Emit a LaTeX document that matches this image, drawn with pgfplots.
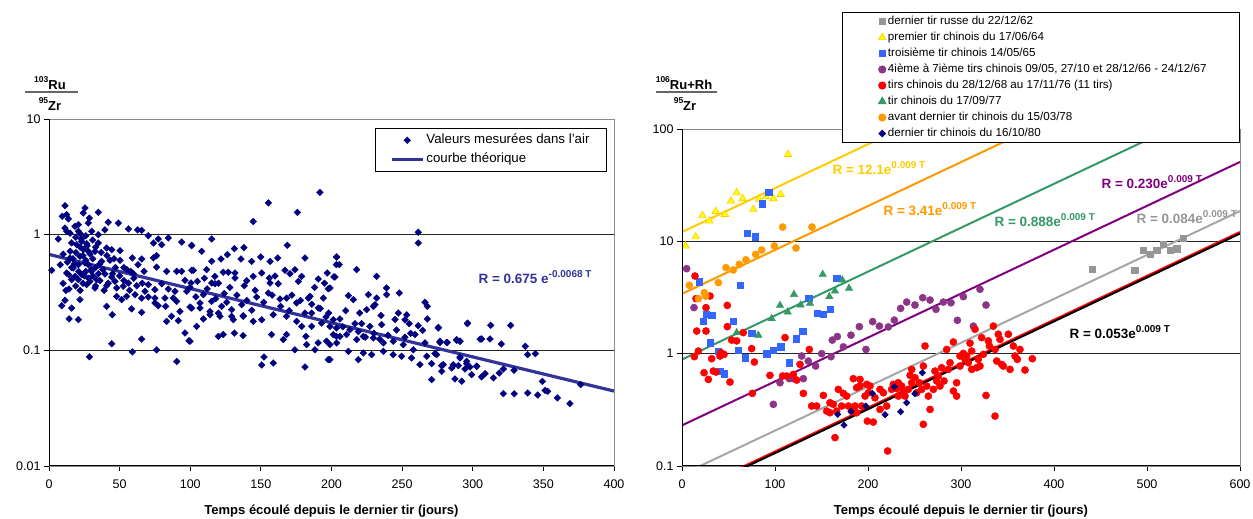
\documentclass[border=0pt]{standalone}
\usepackage{pgfplots}
\pgfplotsset{compat=1.18}
\usepackage{fontspec}
\setmainfont{Liberation Sans}

\definecolor{navy}{HTML}{000080}
\definecolor{fitblue}{HTML}{333399}
\definecolor{grayS}{HTML}{969696}
\definecolor{yelFill}{HTML}{FFFF00}
\definecolor{yelLine}{HTML}{FFCC00}
\definecolor{blueS}{HTML}{3366FF}
\definecolor{plum}{HTML}{8C3586}
\definecolor{purpleL}{HTML}{800080}
\definecolor{greenS}{HTML}{339966}
\definecolor{orangeS}{HTML}{FF9900}

% small raised text for isotopes and exponents
\newcommand{\up}[1]{\raisebox{0.48em}{\fontsize{8.5}{9}\selectfont #1}}
\newcommand{\upR}[1]{\raisebox{0.5em}{\fontsize{10}{11}\selectfont #1}}

\pgfplotsset{
  every axis/.append style={
    scale only axis,
    axis line style={draw=black!45, line width=0.9pt},
    tick align=outside, major tick length=5pt,
    xtick pos=bottom, ytick pos=left,
    tick style={black, line width=0.9pt},
    ymajorgrids, grid style={black!85, line width=0.8pt},
    ticklabel style={font=\fontsize{12.5}{14}\selectfont},
    xticklabel style={yshift=-5pt},
    xlabel style={font=\bfseries\fontsize{13}{15}\selectfont,
      at={(axis description cs:0.5,0)}, anchor=center, yshift=-45pt},
    legend cell align=left,
  },
}

\begin{document}
\begin{tikzpicture}
\useasboundingbox (0pt,0pt) rectangle (1253pt,519pt);

% ---------------- left panel: 103Ru / 95Zr ----------------
\begin{axis}[ymode=log, yminorticks=false, name=L,
  at={(49pt,53pt)}, anchor=south west, width=565pt, height=347pt,
  xmin=0, xmax=400, ymin=0.01, ymax=10,
  xtick={0,50,100,150,200,250,300,350,400},
  xticklabels={0,50,100,150,200,250,300,350,400},
  ytick={0.01,0.1,1,10}, yticklabels={0.01,0.1,1,10},
  xlabel={Temps écoulé depuis le dernier tir (jours)},
  legend style={at={(axis description cs:0.9876,0.974)}, anchor=north east,
    draw=black, line width=0.9pt, fill=white,
    font=\fontsize{13.3}{15}\selectfont, inner xsep=15pt, inner ysep=2pt,
    nodes={text height=9.5pt, text depth=3pt, inner ysep=3.5pt}},
  legend image code/.code={\draw[mark repeat=2,mark phase=2,#1]
    plot coordinates {(0pt,0pt) (15.5pt,0pt) (31pt,0pt)};},
]
\addplot[only marks, mark=square*, mark size=2.4pt, color=navy,
  mark options={rotate=45, line width=0.3pt}] coordinates {
(11.3,1.78)(9.4,1.44)(12.5,1.49)(13.7,1.37)(25.5,1.70)(24.3,1.54)(34.9,1.56)(28.6,1.39)
(20.8,1.22)(18.4,1.18)(11.3,1.14)(12.5,1.07)(14.9,1.03)(27.8,1.26)(42.0,1.28)(49.1,1.26)
(56.2,1.12)(62.8,1.10)(65.6,1.09)(70.3,0.98)(77.4,0.917)(84.5,0.936)(93.9,0.864)(101.0,0.809)
(79.8,0.82)(73.9,0.847)(6.6,0.917)(20.8,1.07)(30.2,1.07)(34.9,1.0)(39.6,1.10)(23.1,0.876)
(26.7,0.836)(19.6,0.82)(34.9,0.847)(40.8,0.767)(44.4,0.742)(50.3,0.727)(59.0,0.629)(65.6,0.616)
(73.9,0.629)(76.2,0.658)(14.9,0.629)(21.9,0.65)(24.3,0.742)(27.8,0.718)(32.6,0.718)(37.3,0.588)
(43.2,0.60)(50.3,0.60)(25.5,0.569)(20.8,0.551)(17.2,0.515)(12.5,0.466)(1.9,0.492)(18.4,0.436)
(23.1,0.451)(30.2,0.482)(39.6,0.457)(44.4,0.431)(59.7,0.46)(67.3,0.482)(76.2,0.525)(83.3,0.482)
(90.4,0.482)(93.9,0.482)(101.0,0.492)(16.0,0.408)(20.8,0.408)(26.7,0.37)(29.0,0.395)(33.7,0.408)
(40.8,0.362)(46.7,0.395)(47.9,0.346)(52.6,0.358)(56.2,0.382)(62.1,0.362)(68.0,0.324)(70.3,0.37)
(75.0,0.335)(79.8,0.377)(84.5,0.339)(89.2,0.324)(96.3,0.403)(97.5,0.324)(100.5,0.382)(14.2,0.339)
(21.9,0.274)(32.6,0.346)(47.9,0.293)(51.4,0.274)(55.0,0.293)(60.9,0.303)(65.6,0.283)(70.3,0.289)
(75.0,0.283)(77.4,0.243)(82.1,0.283)(88.0,0.283)(90.4,0.265)(9.0,0.243)(11.3,0.271)(16.0,0.232)
(40.8,0.24)(58.5,0.228)(65.6,0.213)(75.0,0.257)(82.6,0.24)(92.7,0.217)(99.8,0.237)(44.8,0.203)
(83.3,0.178)(91.6,0.181)(14.2,0.187)(20.8,0.184)(86.8,0.197)(96.3,0.141)(99.1,0.121)(44.4,0.114)
(65.6,0.125)(76.2,0.101)(59.0,0.097)(28.6,0.088)(90.4,0.080)
(17,0.62)(19,0.70)(22,0.78)(24,0.66)(26,0.60)(28,0.55)(30,0.50)(18,0.56)(21,0.48)(25,0.44)
(27,0.80)(23,0.92)(31,0.62)(33,0.52)(35,0.46)(15,0.72)(13,0.58)(29,0.68)(36,0.56)(38,0.50)
(8,0.55)(10,0.38)(12,0.33)(14,0.45)(16,0.52)(19,0.36)(22,0.33)(24,0.38)(26,0.48)(28,0.42)
(31,0.44)(33,0.36)(36,0.40)(39,0.33)(42,0.38)(45,0.46)(47,0.52)(50,0.44)(53,0.40)(55,0.50)
(57,0.33)(60,0.42)(63,0.55)(66,0.38)(10,0.68)(16,0.85)(19,0.95)(22,1.02)(26,0.98)(31,0.90)
(33,0.78)(37,0.70)(41,0.66)(46,0.62)(53,0.52)(58,0.48)
(101.0,0.803)(108.1,0.718)(115.2,0.917)(115.2,0.588)(121.8,0.616)(126.3,0.672)(131.2,0.757)(138.0,0.772)
(135.9,0.616)(143.5,0.588)(149.9,0.641)(156.5,0.588)(161.9,0.629)(168.7,0.809)(181.2,0.629)(203.5,0.641)
(203.5,0.551)(102.2,0.492)(111.6,0.498)(123.4,0.473)(126.9,0.473)(131.7,0.466)(131.7,0.422)(117.5,0.436)
(115.2,0.382)(117.5,0.377)(105.0,0.395)(144.6,0.436)(150.6,0.466)(156.0,0.422)(156.5,0.382)(162.3,0.377)
(167.1,0.492)(170.6,0.46)(174.1,0.498)(176.5,0.395)(178.9,0.436)(190.6,0.414)(197.0,0.466)(201.7,0.431)
(197.7,0.341)(138.3,0.362)(99.8,0.351)(109.3,0.303)(115.2,0.265)(106.9,0.257)(101.0,0.232)(106.9,0.232)
(114.0,0.217)(122.2,0.24)(125.8,0.26)(129.3,0.225)(136.4,0.248)(137.5,0.197)(143.5,0.222)(147.0,0.289)
(155.3,0.313)(163.5,0.278)(168.2,0.283)(175.3,0.257)(183.6,0.283)(184.8,0.293)(194.2,0.283)(190.6,0.232)
(185.9,0.21)(196.1,0.194)(201.3,0.184)(203.5,0.156)(104.5,0.161)(109.3,0.187)(114.0,0.203)(119.9,0.21)
(121.1,0.197)(129.3,0.197)(130.5,0.184)(137.5,0.1995)(144.6,0.178)(150.6,0.184)(158.8,0.203)(168.2,0.197)
(175.3,0.178)(178.9,0.161)(181.2,0.21)(185.9,0.161)(193.0,0.172)(99.8,0.12)(119.9,0.132)(123.4,0.137)
(131.2,0.141)(137.5,0.134)(157.6,0.137)(165.9,0.124)(168.2,0.137)(174.1,0.101)(181.9,0.132)(182.4,0.112)
(188.3,0.101)(190.6,0.116)(196.5,0.12)(198.9,0.112)(203.5,0.132)(152.2,0.0876)(150.6,0.0748)(158.8,0.0778)
(181.2,0.0718)(197.7,0.0831)(144.6,1.30)(155.3,1.88)(175.8,1.56)(191.8,2.32)
(104,0.29)(112,0.34)(118,0.28)(124,0.31)(128,0.35)(133,0.30)(140,0.27)(146,0.33)(152,0.26)(158,0.30)
(164,0.24)(170,0.22)(110,0.42)(120,0.38)(140,0.40)(160,0.44)
(172,0.30)(178,0.27)(186,0.25)(192,0.23)(198,0.21)(188,0.35)(195,0.38)
(208,0.16)(213,0.15)(219,0.145)(224,0.13)(230,0.14)(234,0.125)(240,0.135)(246,0.15)(252,0.13)(256,0.14)
(210,0.22)(220,0.21)(235,0.2)(245,0.185)(255,0.17)
(261.4,1.048)(261.4,0.847)(203.7,0.641)(205.5,0.551)(202.5,0.431)(217.8,0.498)(198.9,0.346)(232.0,0.436)
(239.0,0.346)(239.0,0.303)(211.9,0.297)(215.5,0.274)(226.1,0.303)(232.0,0.283)(230.8,0.248)(229.6,0.24)
(224.9,0.225)(248.0,0.313)(247.3,0.21)(253.2,0.203)(252.0,0.184)(266.2,0.26)(267.8,0.24)(267.8,0.187)
(261.4,0.1635)(264.5,0.149)(259.1,0.137)(275.6,0.158)(296.2,0.170)(206.0,0.187)(216.6,0.170)(221.3,0.170)
(227.2,0.161)(235.5,0.167)(201.3,0.137)(206.0,0.132)(210.7,0.137)(217.8,0.124)(222.5,0.132)(229.6,0.128)
(236.7,0.116)(243.7,0.12)(250.8,0.112)(257.9,0.101)(266.2,0.116)(276.8,0.117)(282.0,0.117)(288.6,0.122)
(291.0,0.12)(305.2,0.125)(198.9,0.161)(203.7,0.116)(211.9,0.098)(219.0,0.0831)(222.5,0.095)(228.4,0.0918)
(236.7,0.098)(243.7,0.0918)(249.6,0.0888)(256.7,0.0859)(262.6,0.0752)(267.4,0.0888)(270.9,0.0767)(274.4,0.0918)
(279.2,0.0752)(286.2,0.0752)(291.0,0.0859)(295.7,0.0767)(302.8,0.0728)(198.9,0.0831)
(296.4,0.172)(306.3,0.1254)(312.2,0.1254)(312.7,0.1646)(320.2,0.1135)(326.8,0.1646)(337.2,0.1083)(338.9,0.0918)
(344.3,0.0937)(291.0,0.0877)(295.7,0.0804)(298.1,0.0718)(302.8,0.0728)(299.2,0.0617)(306.3,0.0589)(308.7,0.0629)
(314.6,0.0577)(318.8,0.0637)(321.7,0.069)(329.2,0.0672)(321.7,0.0422)(329.4,0.0422)(338.9,0.0428)(346.0,0.0411)
(349.3,0.054)(351.2,0.0451)(353.0,0.0442)(359.9,0.0388)(368.8,0.0346)(376.4,0.0505)(287.4,0.0566)(292.2,0.054)
(289.8,0.0738)(294.5,0.069)(288.6,0.1238)(291.0,0.1197)(281.5,0.1173)(276.8,0.1197)(275.6,0.156)(273.3,0.0937)
(278.0,0.0738)(278.0,0.0659)(270.9,0.0558)(286.3,0.0738)(285.1,0.0704)
};
\addlegendentry{Valeurs mesurées dans l'air}
% fitted decay R = 0.675 exp(-0.0068 T)
\addplot[fitblue, line width=3.2pt] coordinates {(0,0.675) (400,0.04446)};
\addlegendentry{courbe théorique}
\end{axis}
\draw[black, line width=1pt] (L.north west) -- (L.south west) -- (L.south east);

\node[anchor=west, text=fitblue, font=\bfseries\fontsize{13.5}{15}\selectfont]
  at (475pt,242pt) {R = 0.675 e\upR{-0.0068 T}};

% isotope ratio label, left
\node[font=\bfseries\fontsize{13}{15}\selectfont] at (50pt,436pt) {\up{103}Ru};
\draw[black!60, line width=1.5pt] (25pt,427pt) -- (78pt,427pt);
\node[font=\bfseries\fontsize{13}{15}\selectfont] at (50pt,415pt) {\up{95}Zr};

% ---------------- right panel: 106Ru+Rh / 95Zr ----------------
\begin{axis}[ymode=log, yminorticks=false, name=R,
  at={(682pt,53pt)}, anchor=south west, width=558pt, height=337pt,
  xmin=0, xmax=600, ymin=0.1, ymax=100,
  xtick={0,100,200,300,400,500,600},
  xticklabels={0,100,200,300,400,500,600},
  ytick={0.1,1,10,100}, yticklabels={0.1,1,10,100},
  xlabel={Temps écoulé depuis le dernier tir (jours)},
  legend style={at={(axis description cs:1,1.347)}, anchor=north east,
    draw=black, line width=0.9pt, fill=white,
    font=\fontsize{11.6}{13}\selectfont, inner xsep=31pt, inner ysep=1pt,
    nodes={text height=8.3pt, text depth=2.5pt, inner ysep=2.6pt}},
  legend image code/.code={\path[draw=none, fill=none] (0pt,0pt) -- (9pt,0pt);
    \draw[#1] plot coordinates {(9pt,0pt)};},
]
\addplot[only marks, mark=square*, mark size=3.2pt, color=grayS] coordinates {
(441.2,5.63)(486.8,5.55)(495.7,8.37)(503.2,7.66)(510.4,8.37)(517.5,9.40)(524.7,8.37)(531.9,8.61)(539.0,10.7)
};
\addlegendentry{dernier tir russe du 22/12/62}
\addplot[only marks, mark=triangle*, mark size=4.3pt, draw=yelLine, fill=yelFill,
  mark options={draw=yelLine, fill=yelFill, line width=0.6pt}] coordinates {
(3.9,9.09)(14.7,11.0)(21.9,17.0)(29.4,15.2)(36.2,18.5)(46.2,17.4)(52.7,22.9)(58.8,27.1)
(65.2,24.0)(76.7,19.3)(82.8,23.7)(90.3,25.0)(98.2,24.0)(106.1,26.2)(114.0,59.5)
};
\addlegendentry{premier tir chinois du 17/06/64}
\addplot[only marks, mark=square*, mark size=3.2pt, color=blueS] coordinates {
(69.9,11.8)(78.9,11.0)(86.4,21.7)(93.2,27.5)(18.6,4.37)(22.9,1.95)(25.8,2.24)(31.9,2.19)
(30.1,1.25)(39.1,1.055)(40.9,0.70)(45.5,0.663)(55.2,1.95)(60.6,1.077)(62.4,4.06)(67.7,0.921)
(74.9,1.52)(91.0,1.0)(98.2,1.077)(106.1,1.15)(115.1,0.831)(122.6,1.36)(129.7,1.59)(136.2,3.11)
(145.5,2.28)(152.0,2.24)(159.1,2.48)(166.3,4.68)
};
\addlegendentry{troisième tir chinois 14/05/65}
\addplot[only marks, mark=*, mark size=3.6pt, color=plum] coordinates {
(5.0,5.71)(12.9,2.57)(98.2,0.354)(105.4,0.551)(115.4,0.599)(119.7,0.599)(128.7,0.953)(130.5,0.599)
(135.8,0.86)(143.7,0.776)(150.2,1.0)(160.2,0.94)(161.6,1.32)(167.0,1.42)(173.5,1.15)(181.7,1.46)
(190.7,1.74)(197.8,1.09)(205.0,1.93)(212.2,1.76)(221.9,1.73)(228.3,1.99)(235.1,2.53)(241.6,2.88)
(250.5,2.71)(258.8,3.15)(266.7,3.0)(273.1,2.48)(281.0,2.88)(289.2,2.84)(296.1,1.98)(302.5,3.22)
(313.3,1.76)(320.4,3.74)(326.9,2.71)
};
\addlegendentry{4ième à 7ième tirs chinois 09/05, 27/10 et 28/12/66 - 24/12/67}
\addplot[only marks, mark=*, mark size=3.6pt, color=red] coordinates {
(14.0,4.91)(15.1,3.09)(15.8,1.59)(13.3,0.94)(17.6,1.055)(23.7,0.677)(25.8,2.57)(25.8,1.59)
(30.1,3.26)(28.3,0.59)(31.9,0.902)(33.7,0.70)(36.6,0.686)(40.9,0.953)(41.9,1.02)(45.2,0.986)
(48.7,2.69)(48.7,1.74)(51.6,0.559)(53.4,1.32)(58.8,1.30)(65.9,1.54)(74.9,1.11)(77.8,0.842)
(75.6,0.443)(94.6,0.641)(110.8,1.39)(108.2,0.632)(112.5,0.632)(130.5,0.443)
(136.9,1.09)(123.3,0.582)(152.0,0.425)(168.1,0.481)(173.5,0.443)(177.1,0.419)(184.2,0.599)(191.4,0.59)
(191.4,0.515)(198.6,0.533)(196.8,0.419)(193.2,0.342)(200.4,0.449)(207.5,0.405)(212.9,0.481)(216.5,0.449)
(220.1,0.342)(227.2,0.533)(230.8,0.488)(232.6,0.419)(236.2,0.515)(239.8,0.419)(243.4,0.481)(245.2,0.641)
(247.0,0.551)(250.5,0.611)(255.2,0.551)(259.5,0.776)(261.3,1.17)(263.1,0.515)(264.9,0.419)(270.3,0.481)
(272.0,0.70)(275.6,0.632)(279.2,0.75)(281.7,0.571)(284.6,1.09)(286.4,0.725)(288.2,0.831)(291.8,1.27)
(295.3,0.551)(298.9,0.953)(302.5,1.006)(306.1,0.953)(307.9,0.831)(309.7,1.24)(311.5,1.055)(315.1,1.65)
(316.8,0.75)(320.4,0.776)(322.2,1.39)(326.9,0.425)(329.4,1.30)(334.8,1.76)(336.6,1.09)(338.4,0.86)
(340.1,1.49)(341.9,1.34)(343.7,0.803)(345.5,0.776)(352.7,0.725)(350.9,1.49)(356.3,1.17)(358.1,0.953)
(360.6,0.89)(363.4,1.09)(368.8,0.715)(376.7,0.902)(139.4,0.342)(144.8,0.342)(159.1,0.366)(162.7,0.354)
(166.3,0.308)(171.7,0.342)(178.9,0.342)(182.4,0.308)(187.8,0.298)(199.3,0.251)(205.7,0.246)(212.9,0.319)
(164.5,0.179)(221.1,0.136)(259.5,0.235)(266.7,0.319)(291.8,0.465)(295.3,0.419)(336.6,0.278)(119.7,0.654)
(126.9,0.803)(155.6,0.308)(159.1,0.298)(186.0,0.342)(187.8,0.498)(202.2,0.515)(225.4,0.481)(232.6,0.551)
(238.0,0.465)(247.0,0.725)(252.3,0.449)(257.7,0.481)(273.8,0.571)(277.4,0.515)(298.9,0.776)(304.3,0.89)
(311.5,0.725)(318.6,0.89)(324.0,0.986)(330.5,1.17)
};
\addlegendentry{tirs chinois du 28/12/68 au 17/11/76 (11 tirs)}
\addplot[only marks, mark=triangle*, mark size=4.3pt, color=greenS] coordinates {
(58.8,1.54)(82.1,1.46)(96.4,2.05)(105.4,2.69)(113.6,2.35)(120.4,3.37)(127.6,2.71)(137.6,2.81)
(151.3,5.08)(158.4,3.22)(164.5,3.61)(172.4,4.53)(179.6,3.82)
};
\addlegendentry{tir chinois du 17/09/77}
\addplot[only marks, mark=*, mark size=3.6pt, color=orangeS] coordinates {
(7.9,4.06)(17.6,3.09)(24.0,3.49)(25.4,3.26)(39.1,4.29)(47.3,5.83)(55.2,5.56)(61.6,6.24)
(68.8,6.85)(79.2,7.66)(85.7,8.37)(99.3,9.09)(108.2,13.4)(122.6,8.72)(139.8,13.4)
};
\addlegendentry{avant dernier tir chinois du 15/03/78}
\addplot[only marks, mark=square*, mark size=2.3pt, color=navy,
  mark options={rotate=45}] coordinates {
(167.4,0.288)(174.2,0.231)(181.7,0.306)(197.8,0.342)(204.7,0.443)(218.3,0.286)(228.3,0.508)
(235.1,0.304)(241.6,0.366)(250.5,0.44)(258.4,0.677)
};
\addlegendentry{dernier tir chinois du 16/10/80}
% fitted growth lines R = a exp(0.009 T), a per test series
\addplot[forget plot, yelLine, line width=2pt] coordinates {(0,12.1) (600,2679)};
\addplot[forget plot, orangeS, line width=2pt] coordinates {(0,3.41) (600,755.0)};
\addplot[forget plot, greenS, line width=2pt] coordinates {(0,0.888) (600,196.6)};
\addplot[forget plot, purpleL, line width=2pt] coordinates {(0,0.230) (600,50.92)};
\addplot[forget plot, grayS!85, line width=2pt] coordinates {(0,0.084) (600,18.60)};
\addplot[forget plot, red, line width=2.4pt] coordinates {(0,0.0545) (600,12.07)};
\addplot[forget plot, black, line width=2pt] coordinates {(0,0.053) (600,11.73)};
\end{axis}
\draw[black, line width=1pt] (R.north west) -- (R.south west) -- (R.south east);

\begin{scope}[font=\bfseries\fontsize{13.5}{15}\selectfont]
\node[anchor=west, text=yelLine] at (829pt,351pt) {R = 12.1e\upR{0.009 T}};
\node[anchor=west, text=orangeS] at (880pt,310pt) {R = 3.41e\upR{0.009 T}};
\node[anchor=west, text=greenS] at (991pt,299pt) {R = 0.888e\upR{0.009 T}};
\node[anchor=west, text=purpleL] at (1098pt,337pt) {R = 0.230e\upR{0.009 T}};
\node[anchor=west, text=grayS] at (1133pt,302pt) {R = 0.084e\upR{0.009 T}};
\node[anchor=west, text=black] at (1066pt,187pt) {R = 0.053e\upR{0.009 T}};
\end{scope}

% isotope ratio label, right
\node[font=\bfseries\fontsize{13}{15}\selectfont] at (684pt,436pt) {\up{106}Ru+Rh};
\draw[black!60, line width=1.5pt] (656pt,427pt) -- (717pt,427pt);
\node[font=\bfseries\fontsize{13}{15}\selectfont] at (685pt,415pt) {\up{95}Zr};
\end{tikzpicture}
\end{document}
